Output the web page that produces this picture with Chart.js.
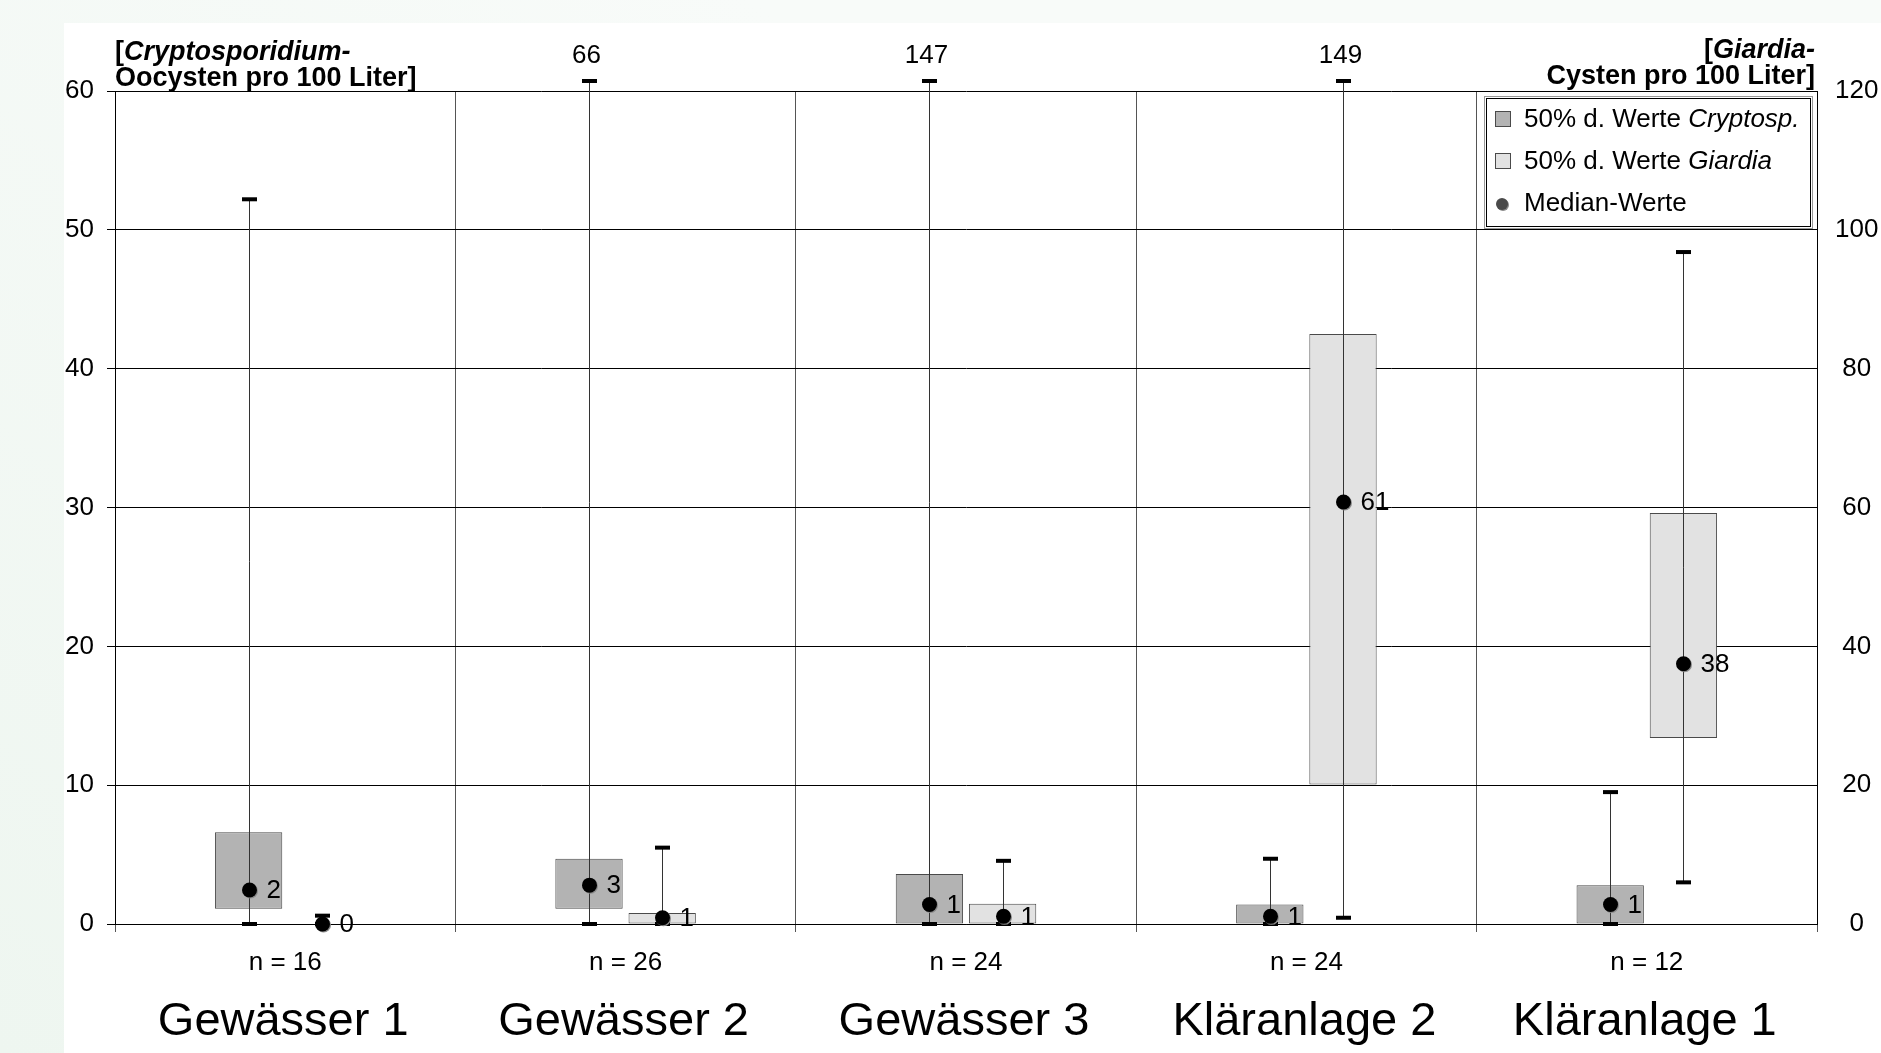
<!DOCTYPE html>
<html lang="de">
<head>
<meta charset="utf-8">
<title>Cryptosporidium und Giardia</title>
<script src="https://cdn.jsdelivr.net/npm/chart.js@4.4.1/dist/chart.umd.min.js"></script>
<style>
  html, body { margin: 0; padding: 0; background: #f2f7f3; }
  #wrap { width: 1881px; height: 1053px; position: relative; }
</style>
</head>
<body>
<div id="wrap"><canvas id="chart"></canvas></div>
<script>
// Probenahmestellen und Anzahl Proben
const standorte = ["Gewässer 1", "Gewässer 2", "Gewässer 3", "Kläranlage 2", "Kläranlage 1"];
const probenAnzahl = [16, 26, 24, 24, 12];

// Cryptosporidium (linke Achse, Oocysten pro 100 Liter)
const cryptoQ1 = [1.1, 1.1, 0, 0, 0];
const cryptoQ3 = [6.6, 4.7, 3.6, 1.4, 2.8];
const cryptoMedian = [2.45, 2.8, 1.4, 0.55, 1.4];
const cryptoMedianText = ["2", "3", "1", "1", "1"];
const cryptoMin = [0, 0, 0, 0, 0];
const cryptoMax = [52.2, 66, 147, 4.7, 9.5];

// Giardia (rechte Achse, Cysten pro 100 Liter)
const giardiaQ1 = [0, 0, 0, 20.1, 26.8];
const giardiaQ3 = [0, 1.6, 2.9, 85, 59.2];
const giardiaMedian = [0, 0.9, 1.1, 60.8, 37.5];
const giardiaMedianText = ["0", "1", "1", "61", "38"];
const giardiaMin = [0, 0, 0, 0.9, 6];
const giardiaMax = [1.2, 11, 9.1, 149, 96.8];

// Achsen-Ticks
const ticksLinks = { min: 0, max: 60, step: 10 };
const ticksRechts = { min: 0, max: 120, step: 20 };

const FONT = '"Liberation Sans", Arial, Helvetica, sans-serif';

const hintergrund = {
    id: "hintergrund",
    beforeDraw(chart) {
        const ctx = chart.ctx;
        ctx.save();
        const g = ctx.createLinearGradient(0, chart.height, chart.width * 0.4, 0);
        g.addColorStop(0, "#eef6f0");
        g.addColorStop(1, "#f8fbf9");
        ctx.fillStyle = g;
        ctx.fillRect(0, 0, chart.width, chart.height);
        ctx.fillStyle = "#ffffff";
        ctx.fillRect(64, 23, chart.width - 64, chart.height - 23);
        ctx.restore();
    }
};

function kappe(ctx, x, y) {
    ctx.fillStyle = "#000";
    ctx.fillRect(x - 7.5, y - 2, 15, 4);
}

function medianPunkt(ctx, x, y, r, farbe) {
    ctx.fillStyle = "#8a8a8a";
    ctx.beginPath();
    ctx.arc(x + 1, y + 1, r, 0, Math.PI * 2);
    ctx.fill();
    ctx.fillStyle = farbe;
    ctx.beginPath();
    ctx.arc(x, y, r, 0, Math.PI * 2);
    ctx.fill();
}

// Whisker, Median-Punkte und Werte
const boxDetails = {
    id: "boxDetails",
    afterDatasetsDraw(chart) {
        const ctx = chart.ctx;
        const area = chart.chartArea;
        const reihen = [
            { meta: chart.getDatasetMeta(0), scale: chart.scales.y, min: cryptoMin, max: cryptoMax, med: cryptoMedian, txt: cryptoMedianText },
            { meta: chart.getDatasetMeta(1), scale: chart.scales.y2, min: giardiaMin, max: giardiaMax, med: giardiaMedian, txt: giardiaMedianText }
        ];
        ctx.save();
        reihen.forEach(r => {
            r.meta.data.forEach((bar, i) => {
                const x = Math.round(bar.x) + 0.5;
                const yMin = r.scale.getPixelForValue(r.min[i]);
                const ueber = r.max[i] > r.scale.max;
                const yMax = ueber ? area.top - 10 : r.scale.getPixelForValue(r.max[i]);

                ctx.strokeStyle = "#333";
                ctx.lineWidth = 1;
                ctx.beginPath();
                ctx.moveTo(x, yMin);
                ctx.lineTo(x, yMax);
                ctx.stroke();

                kappe(ctx, x, yMin);
                kappe(ctx, x, yMax);

                if (ueber) {
                    ctx.fillStyle = "#000";
                    ctx.font = "26px " + FONT;
                    ctx.textAlign = "center";
                    ctx.textBaseline = "alphabetic";
                    ctx.fillText(String(r.max[i]), x - 3, yMax - 18);
                }

                const yMed = r.scale.getPixelForValue(r.med[i]);
                medianPunkt(ctx, x, yMed, 7.5, "#000");
                ctx.fillStyle = "#000";
                ctx.font = "26px " + FONT;
                ctx.textAlign = "left";
                ctx.textBaseline = "middle";
                ctx.fillText(r.txt[i], x + 17, yMed + 1);
            });
        });
        ctx.restore();
    }
};

function zeichneTeile(ctx, teile, x, y, align) {
    const breiten = teile.map(t => {
        ctx.font = t.font;
        return ctx.measureText(t.text).width;
    });
    const gesamt = breiten.reduce((a, b) => a + b, 0);
    let cx = align === "right" ? x - gesamt : x;
    teile.forEach((t, k) => {
        ctx.font = t.font;
        ctx.fillText(t.text, cx, y);
        cx += breiten[k];
    });
}

// Achsentitel, Kategorien, n-Werte und Legende
const beschriftung = {
    id: "beschriftung",
    afterDraw(chart) {
        const ctx = chart.ctx;
        const area = chart.chartArea;
        const fett = "bold 27px " + FONT;
        const fettKursiv = "italic bold 27px " + FONT;
        const normal = "26px " + FONT;
        const kursiv = "italic 26px " + FONT;

        ctx.save();
        ctx.fillStyle = "#000";
        ctx.textBaseline = "alphabetic";
        ctx.textAlign = "left";

        zeichneTeile(ctx, [{ text: "[", font: fett }, { text: "Cryptosporidium-", font: fettKursiv }], area.left, 60, "left");
        zeichneTeile(ctx, [{ text: "Oocysten pro 100 Liter]", font: fett }], area.left, 86, "left");
        zeichneTeile(ctx, [{ text: "[", font: fett }, { text: "Giardia-", font: fettKursiv }], area.right - 2, 58, "right");
        zeichneTeile(ctx, [{ text: "Cysten pro 100 Liter]", font: fett }], area.right - 2, 84, "right");

        // Kategorien und n = ...
        ctx.textAlign = "center";
        standorte.forEach((s, i) => {
            const x = chart.scales.x.getPixelForValue(i);
            ctx.font = "26px " + FONT;
            ctx.textBaseline = "middle";
            ctx.fillText("n = " + probenAnzahl[i], x, 963);
            ctx.font = "47px " + FONT;
            ctx.textBaseline = "alphabetic";
            ctx.fillText(s, x - 2, 1035);
        });

        // Legende
        const lx = 1486, ly = 98, lw = 325, lh = 129;
        ctx.fillStyle = "#fff";
        ctx.fillRect(lx, ly, lw, lh);
        ctx.strokeStyle = "#999";
        ctx.lineWidth = 1;
        ctx.strokeRect(lx - 1.5, ly - 1.5, lw + 3, lh + 3);
        ctx.strokeStyle = "#000";
        ctx.strokeRect(lx + 0.5, ly + 0.5, lw - 1, lh - 1);

        const eintraege = [
            { farbe: "#b3b3b3", teile: [{ text: "50% d. Werte ", font: normal }, { text: "Cryptosp.", font: kursiv }] },
            { farbe: "#e2e2e2", teile: [{ text: "50% d. Werte ", font: normal }, { text: "Giardia", font: kursiv }] },
            { punkt: true, teile: [{ text: "Median-Werte", font: normal }] }
        ];
        eintraege.forEach((e, k) => {
            const cy = 119 + k * 42;
            if (e.punkt) {
                medianPunkt(ctx, 1502, cy + 1, 6, "#4a4a4a");
            } else {
                ctx.fillStyle = e.farbe;
                ctx.fillRect(1495.5, cy - 7.5, 15, 15);
                ctx.strokeStyle = "#4a4a4a";
                ctx.strokeRect(1495.5, cy - 7.5, 15, 15);
            }
            ctx.fillStyle = "#000";
            ctx.textAlign = "left";
            ctx.textBaseline = "middle";
            zeichneTeile(ctx, e.teile, 1524, cy + 1, "left");
        });
        ctx.restore();
    }
};

new Chart(document.getElementById("chart"), {
    type: "bar",
    data: {
        labels: standorte,
        datasets: [
            {
                label: "50% d. Werte Cryptosp.",
                data: standorte.map((s, i) => [cryptoQ1[i], cryptoQ3[i]]),
                yAxisID: "y",
                backgroundColor: "#b3b3b3",
                borderColor: "#4a4a4a",
                borderWidth: 1,
                borderSkipped: false,
                barPercentage: 0.92,
                categoryPercentage: 0.43
            },
            {
                label: "50% d. Werte Giardia",
                data: standorte.map((s, i) => [giardiaQ1[i], giardiaQ3[i]]),
                yAxisID: "y2",
                backgroundColor: "#e2e2e2",
                borderColor: "#4a4a4a",
                borderWidth: 1,
                borderSkipped: false,
                barPercentage: 0.92,
                categoryPercentage: 0.43
            }
        ]
    },
    options: {
        responsive: true,
        maintainAspectRatio: false,
        animation: false,
        layout: { padding: { left: 65, top: 91, right: 1, bottom: 121 } },
        plugins: {
            legend: { display: false },
            tooltip: { enabled: false }
        },
        scales: {
            x: {
                grid: { color: "#555", lineWidth: 1, tickLength: 8, offset: true },
                border: { color: "#000" },
                ticks: { display: false }
            },
            y: {
                position: "left",
                min: ticksLinks.min,
                max: ticksLinks.max,
                grid: { color: "#000", lineWidth: 1, tickLength: 8 },
                border: { color: "#000" },
                ticks: {
                    stepSize: ticksLinks.step,
                    color: "#000",
                    font: { family: FONT, size: 26 },
                    padding: 13
                },
                afterFit(scale) { scale.width = 50; }
            },
            y2: {
                position: "right",
                min: ticksRechts.min,
                max: ticksRechts.max,
                grid: { drawOnChartArea: false, drawTicks: false },
                border: { color: "#000" },
                ticks: {
                    stepSize: ticksRechts.step,
                    color: "#000",
                    font: { family: FONT, size: 26 },
                    padding: 18,
                    crossAlign: "center"
                },
                afterFit(scale) { scale.width = 63; }
            }
        }
    },
    plugins: [hintergrund, boxDetails, beschriftung]
});
</script>
</body>
</html>
